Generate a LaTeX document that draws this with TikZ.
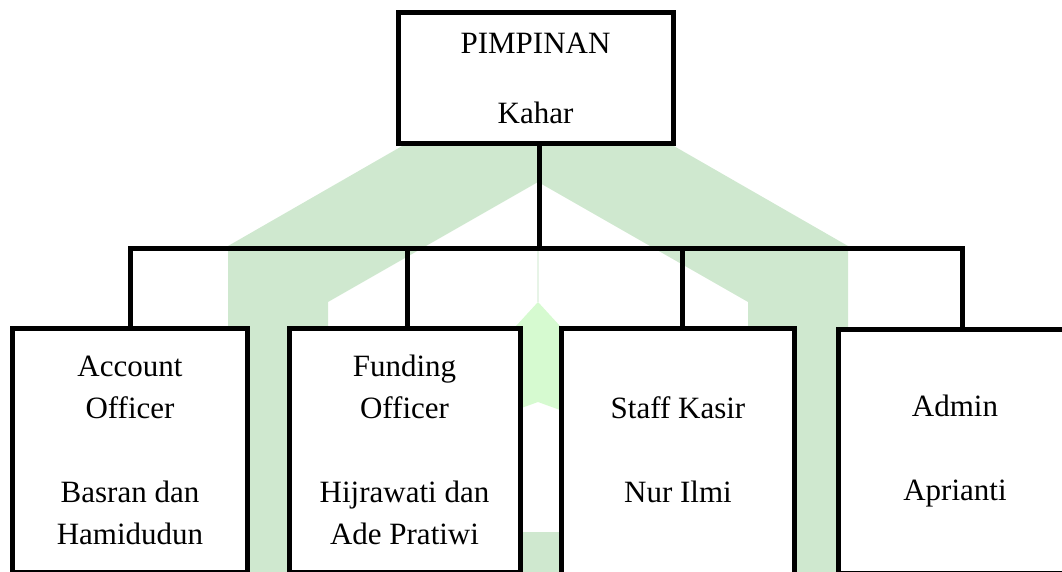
\documentclass[tikz,border=0pt]{standalone}
\usepackage{fontspec}
\setmainfont{Liberation Serif}
\definecolor{wmgreen}{RGB}{207,232,207}
\definecolor{wmlight}{RGB}{214,250,208}
\begin{document}
\begin{tikzpicture}
        [x=1pt, y=-1pt,
        boxtext/.style={align=center, font=\fontsize{31}{42}\selectfont},
        box/.style={boxtext, draw, line width=5pt, fill=white, minimum width=234pt, minimum height=244pt},
        edge/.style={line width=5pt, black}]

        \useasboundingbox (0,0) rectangle (1062,572);
        \clip (0,0) rectangle (1062,572);

        % watermark in the background
        \fill[wmgreen, even odd rule] (228,246) -- (538,68) -- (848,246) -- (848,590) -- (228,590) -- cycle
            (328,302) -- (538,182) -- (748,302) -- (748,532) -- (328,532) -- cycle;
        \fill[wmlight] (538,302) -- (560,326) -- (560,410) -- (538,402) -- (516,410) -- (516,326) -- cycle;
        \draw[wmgreen!50, line width=2pt] (538,250) -- (538,302);

        \node[box, minimum width=275pt, minimum height=131pt, text depth=-8pt] (pimpinan) at (535.5,78.5) {PIMPINAN\\[28pt]Kahar};
        \node[box, minimum width=235pt] (ao) at (130,450) {Account\\Officer\\[42pt]Basran dan\\Hamidudun};
        \node[box, minimum width=231pt] (fo) at (404.5,450) {Funding\\Officer\\[42pt]Hijrawati dan\\Ade Pratiwi};
        \node[box, minimum width=233.5pt, minimum height=272pt] (kasir) at (678,464) {};
        \node[boxtext] (kasirtext) at (678,450) {Staff Kasir\\[42pt]Nur Ilmi};
        \node[box] (admin) at (955,451) {Admin\\[42pt]Aprianti};

        % junctions on the bar
        \coordinate (jt) at (539,248);
        \coordinate (j1) at (130,248);
        \coordinate (j2) at (407,248);
        \coordinate (j3) at (682,248);
        \coordinate (j4) at (962,248);

        % connectors
        \draw[edge] (pimpinan.south -| jt) -- (jt);
        \draw[edge] (j1 |- ao.north) -- (j1) -- (j4) -- (j4 |- admin.north);
        \draw[edge] (j2) -- (j2 |- fo.north);
        \draw[edge] (j3) -- (j3 |- kasir.north);

\end{tikzpicture}
\end{document}
